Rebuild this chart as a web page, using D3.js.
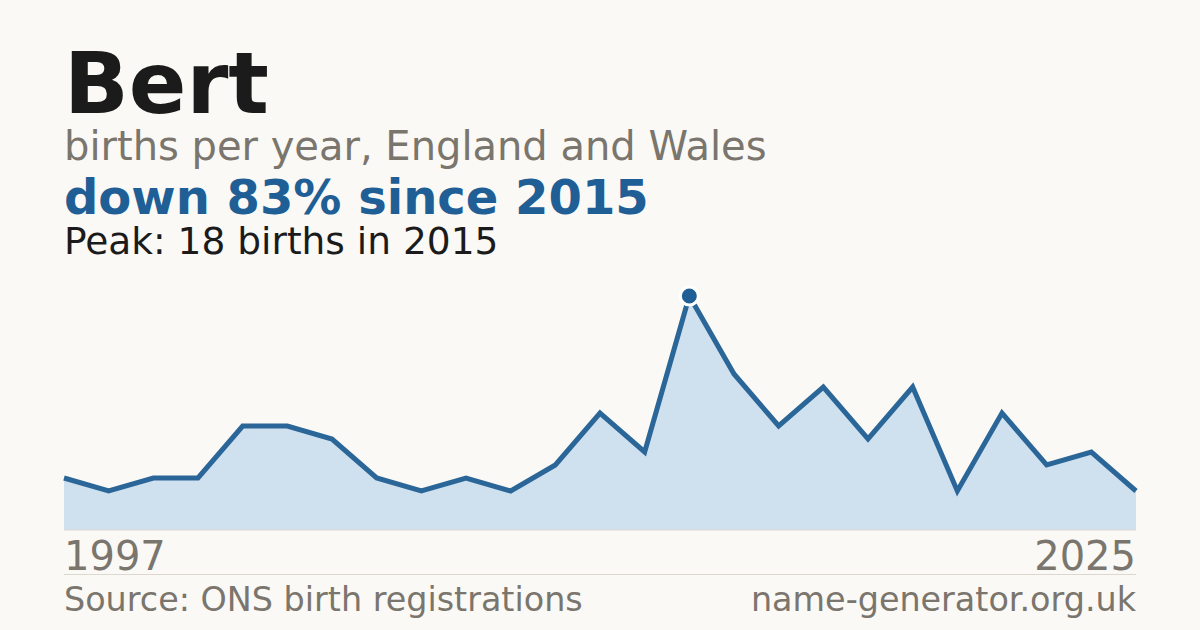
<!DOCTYPE html>
<html><head><meta charset="utf-8">
<script src="https://cdn.jsdelivr.net/npm/d3@7"></script>
<style>
html,body{margin:0;padding:0;background:#faf9f5;}
svg{display:block;font-family:"DejaVu Sans",sans-serif;}
</style></head>
<body>
<svg id="c" width="1200" height="630"></svg>
<script>
const years = [1997,1998,1999,2000,2002,2003,2004,2006,2007,2008,2010,2011,2012,2013,2015,2016,2017,2018,2019,2020,2021,2022,2023,2024,2025];
const births = [4,3,4,4,8,8,7,4,3,4,3,5,9,6,18,12,8,11,7,11,3,9,5,6,3];
const titleText = "Bert";
const subtitleText = "births per year, England and Wales";
const headlineText = "down 83% since 2015";
const peakText = "Peak: 18 births in 2015";
const sourceText = "Source: ONS birth registrations";
const siteText = "name-generator.org.uk";

const svg = d3.select("#c");
svg.append("rect").attr("width",1200).attr("height",630).attr("fill","#faf9f5");

const L=64, R=1136, plotTop=296, base=530;
const x = d3.scalePoint().domain(d3.range(years.length)).range([L,R]);
const y = d3.scaleLinear().domain([0,d3.max(births)]).range([base,plotTop]);

svg.append("text").attr("x",L).attr("y",113).attr("font-size",85).attr("font-weight","bold").attr("fill","#1b1b1b").text(titleText);
svg.append("text").attr("x",L).attr("y",160).attr("font-size",40).attr("fill","#7a756d").text(subtitleText);
svg.append("text").attr("x",L).attr("y",214).attr("font-size",48).attr("font-weight","bold").attr("fill","#1f5f95").text(headlineText);
svg.append("text").attr("x",L).attr("y",254).attr("font-size",37.5).attr("fill","#1b1b1b").text(peakText);

const area = d3.area().x((d,i)=>x(i)).y0(base).y1(d=>y(d));
svg.append("path").datum(births).attr("d",area).attr("fill","#cfe0ef");
svg.append("line").attr("x1",L).attr("x2",R).attr("y1",base).attr("y2",base).attr("stroke","#dcd8d0").attr("stroke-width",1);
const line = d3.line().x((d,i)=>x(i)).y(d=>y(d));
svg.append("path").datum(births).attr("d",line).attr("fill","none").attr("stroke","#2b6698").attr("stroke-width",5).attr("stroke-linejoin","miter");

const pi = births.indexOf(d3.max(births));
svg.append("circle").attr("cx",x(pi)).attr("cy",y(births[pi])).attr("r",9).attr("fill","#1f5f95").attr("stroke","#ffffff").attr("stroke-width",3);

svg.append("text").attr("x",L).attr("y",570).attr("font-size",40).attr("fill","#7a756d").text(years[0]);
svg.append("text").attr("x",R).attr("y",570).attr("font-size",40).attr("fill","#7a756d").attr("text-anchor","end").text(years[years.length-1]);
svg.append("line").attr("x1",L).attr("x2",R).attr("y1",574.5).attr("y2",574.5).attr("stroke","#dcd8d0").attr("stroke-width",1);
svg.append("text").attr("x",L).attr("y",611).attr("font-size",33.4).attr("fill","#7a756d").text(sourceText);
svg.append("text").attr("x",R).attr("y",611).attr("font-size",33.4).attr("fill","#7a756d").attr("text-anchor","end").text(siteText);
</script>
</body></html>
